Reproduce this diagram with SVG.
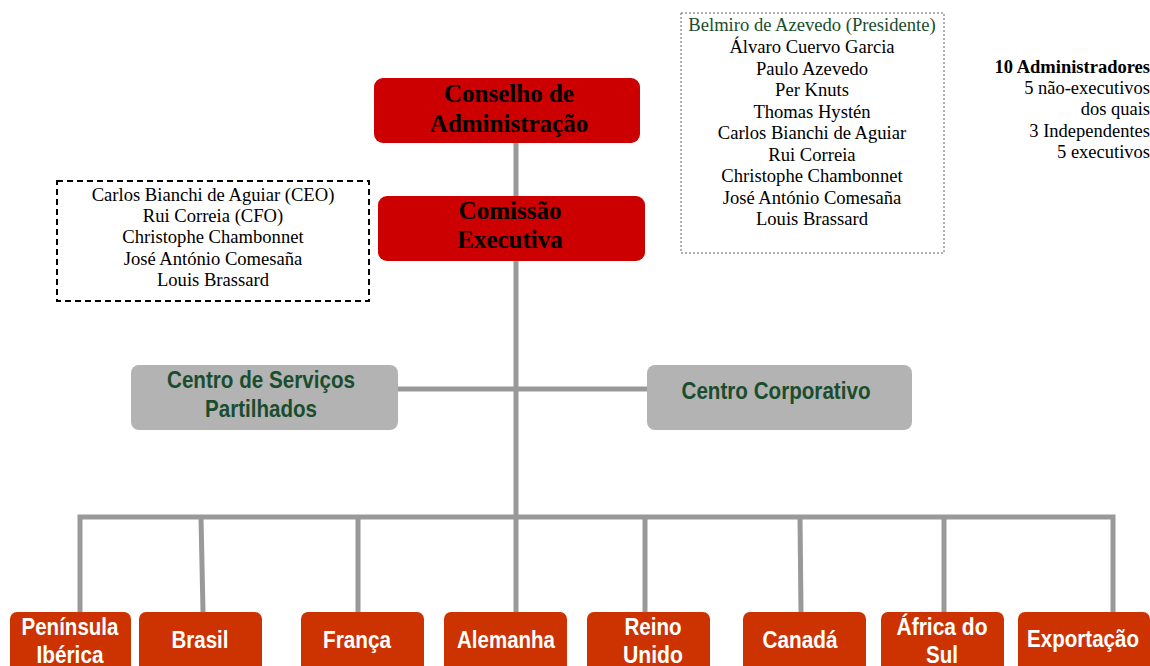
<svg xmlns="http://www.w3.org/2000/svg" width="1150" height="666" viewBox="0 0 1150 666">
<style>
.red{fill:#cc0000}
.org{fill:#cc3300}
.gry{fill:#b3b3b3}
.ttl{font-family:"Liberation Serif","Times New Roman",serif;font-weight:bold;font-size:25px;fill:#000;text-anchor:middle}
.sf{font-family:"Liberation Serif","Times New Roman",serif;font-size:18.6px;fill:#000;text-anchor:middle}
.rt{font-family:"Liberation Serif","Times New Roman",serif;font-size:18.5px;fill:#000;text-anchor:end}
.gt{font-family:"Liberation Sans",Arial,sans-serif;font-weight:bold;font-size:23px;fill:#1a4d2e;text-anchor:middle}
.wt{font-family:"Liberation Sans",Arial,sans-serif;font-weight:bold;font-size:23px;fill:#fff;text-anchor:middle}
.ln{stroke:#999;stroke-width:5;fill:none}
</style>
<g id="connectors">
<line class="ln" x1="516" y1="143" x2="516" y2="517"/>
<line class="ln" x1="398" y1="389" x2="647" y2="389"/>
<polyline class="ln" points="80,612 80,517 1113,517 1113,612"/>
<line class="ln" x1="201" y1="517" x2="203" y2="612"/>
<line class="ln" x1="358" y1="517" x2="358" y2="612"/>
<line class="ln" x1="516" y1="517" x2="516" y2="612"/>
<line class="ln" x1="645" y1="517" x2="645" y2="612"/>
<line class="ln" x1="800" y1="517" x2="801" y2="612"/>
<line class="ln" x1="944" y1="517" x2="944" y2="612"/>
</g>
<g id="conselho">
<rect class="red" x="374" y="78" width="266" height="65" rx="9"/>
<text class="ttl" x="509" y="102">Conselho de</text>
<text class="ttl" x="509" y="132">Administração</text>
</g>
<g id="comissao">
<rect class="red" x="378" y="196" width="267" height="65" rx="9"/>
<text class="ttl" x="510" y="219">Comissão</text>
<text class="ttl" x="510" y="248">Executiva</text>
</g>
<g id="executivos">
<rect x="57" y="181" width="312" height="120" fill="none" stroke="#000" stroke-width="2" stroke-dasharray="6,4"/>
<text class="sf" x="213" y="201">Carlos Bianchi de Aguiar (CEO)</text>
<text class="sf" x="213" y="222">Rui Correia (CFO)</text>
<text class="sf" x="213" y="243">Christophe Chambonnet</text>
<text class="sf" x="213" y="265">José António Comesaña</text>
<text class="sf" x="213" y="286">Louis Brassard</text>
</g>
<g id="administradores">
<rect x="681" y="13" width="263" height="240" fill="none" stroke="#666" stroke-width="1" stroke-dasharray="2,2"/>
<text class="sf" x="812" y="31" style="fill:#1a4d2e">Belmiro de Azevedo (Presidente)</text>
<text class="sf" x="812" y="53">Álvaro Cuervo Garcia</text>
<text class="sf" x="812" y="75">Paulo Azevedo</text>
<text class="sf" x="812" y="96">Per Knuts</text>
<text class="sf" x="812" y="118">Thomas Hystén</text>
<text class="sf" x="812" y="139">Carlos Bianchi de Aguiar</text>
<text class="sf" x="812" y="161">Rui Correia</text>
<text class="sf" x="812" y="182">Christophe Chambonnet</text>
<text class="sf" x="812" y="204">José António Comesaña</text>
<text class="sf" x="812" y="225">Louis Brassard</text>
</g>
<g id="resumo">
<text class="rt" x="1150" y="73" font-weight="bold">10 Administradores</text>
<text class="rt" x="1150" y="94">5 não-executivos</text>
<text class="rt" x="1150" y="115">dos quais</text>
<text class="rt" x="1150" y="137">3 Independentes</text>
<text class="rt" x="1150" y="158">5 executivos</text>
</g>
<g id="csp">
<rect class="gry" x="131" y="365" width="267" height="65" rx="8"/>
<text class="gt" x="261" y="388" textLength="188" lengthAdjust="spacingAndGlyphs">Centro de Serviços</text>
<text class="gt" x="261" y="417" textLength="112" lengthAdjust="spacingAndGlyphs">Partilhados</text>
</g>
<g id="cc">
<rect class="gry" x="647" y="365" width="265" height="65" rx="8"/>
<text class="gt" x="776" y="399" textLength="189" lengthAdjust="spacingAndGlyphs">Centro Corporativo</text>
</g>
<g id="peninsula">
<rect class="org" x="10" y="612" width="121" height="70" rx="7"/>
<text class="wt" x="70" y="635" textLength="97" lengthAdjust="spacingAndGlyphs">Península</text>
<text class="wt" x="70" y="663" textLength="67" lengthAdjust="spacingAndGlyphs">Ibérica</text>
</g>
<g id="brasil">
<rect class="org" x="139" y="612" width="123" height="70" rx="7"/>
<text class="wt" x="200" y="648" textLength="57" lengthAdjust="spacingAndGlyphs">Brasil</text>
</g>
<g id="franca">
<rect class="org" x="301" y="612" width="123" height="70" rx="7"/>
<text class="wt" x="357" y="648" textLength="68" lengthAdjust="spacingAndGlyphs">França</text>
</g>
<g id="alemanha">
<rect class="org" x="444" y="612" width="123" height="70" rx="7"/>
<text class="wt" x="506" y="648" textLength="98" lengthAdjust="spacingAndGlyphs">Alemanha</text>
</g>
<g id="reino">
<rect class="org" x="587" y="612" width="123" height="70" rx="7"/>
<text class="wt" x="653" y="635" textLength="57" lengthAdjust="spacingAndGlyphs">Reino</text>
<text class="wt" x="653" y="663" textLength="60" lengthAdjust="spacingAndGlyphs">Unido</text>
</g>
<g id="canada">
<rect class="org" x="743" y="612" width="123" height="70" rx="7"/>
<text class="wt" x="800" y="648" textLength="75" lengthAdjust="spacingAndGlyphs">Canadá</text>
</g>
<g id="africa">
<rect class="org" x="881" y="612" width="123" height="70" rx="7"/>
<text class="wt" x="942" y="635" textLength="91" lengthAdjust="spacingAndGlyphs">África do</text>
<text class="wt" x="942" y="663" textLength="32" lengthAdjust="spacingAndGlyphs">Sul</text>
</g>
<g id="exportacao">
<rect class="org" x="1018" y="612" width="132" height="70" rx="7"/>
<text class="wt" x="1083" y="647" font-size="21" textLength="112" lengthAdjust="spacingAndGlyphs">Exportação</text>
</g>
</svg>
